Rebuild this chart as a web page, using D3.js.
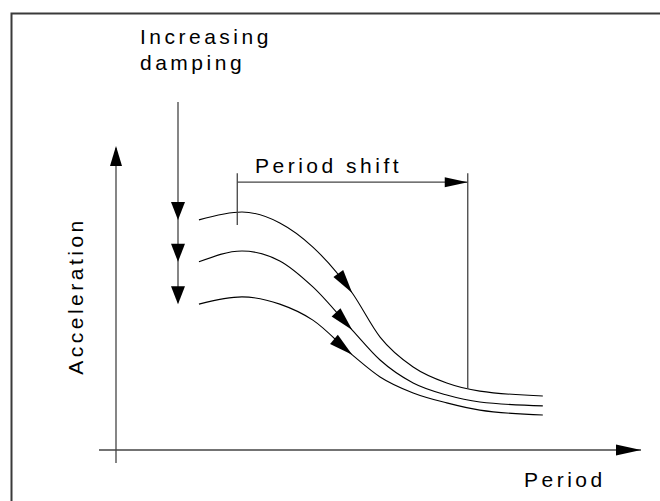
<!DOCTYPE html>
<meta charset="utf-8">
<style>
body { margin: 0; background: #fff; }
text {
  font: 21px "Liberation Sans", Arial, sans-serif;
  letter-spacing: 3.5px;
  fill: #000;
}
</style>
<svg width="660" height="501"></svg>
<script src="https://d3js.org/d3.v7.min.js"></script>
<script>

// schematic spectra: period vs acceleration, one list per damping level
let periods = [1.58, 2.40, 3.12, 3.75, 4.50, 5.03, 5.66, 6.30, 6.93, 8.13];
let lowDamping = [7.62, 7.88, 7.52, 6.72, 5.20, 3.74, 2.75, 2.22, 1.95, 1.79];
let midDamping = [6.23, 6.59, 6.26, 5.40, 3.97, 2.98, 2.22, 1.82, 1.59, 1.46];
let highDamping = [4.83, 5.07, 4.83, 4.30, 3.15, 2.42, 1.89, 1.56, 1.32, 1.16];
let curves = [lowDamping, midDamping, highDamping];

let shiftFrom = 2.31;   // period where the shift bracket starts
let shiftTo = 6.70;     // period where it ends
let shiftLevel = 8.87;  // acceleration level of the bracket
let arrowAt = 4.50;     // period of the arrow heads on the curves

let svg = d3.select('svg');

let x = d3.scaleLinear().domain([0, 10]).range([116, 641]);
let y = d3.scaleLinear().domain([0, 10]).range([450, 148]);

// frame (only top/left edge in view)
svg.append('path')
    .attr('d', 'M11.5,501V13.5H660')
    .attr('fill', 'none')
    .attr('stroke', '#3a3a3a')
    .attr('stroke-width', 2);

let head = (tx, ty, angle, len, wid) => {
  svg.append('path')
      .attr('d', `M0,0L${-len},${-wid / 2}L${-len},${wid / 2}Z`)
      .attr('transform', `translate(${tx},${ty}) rotate(${angle})`)
      .attr('fill', '#000');
};

// point on a path at a given screen x, plus its heading
let pointAt = (node, px) => {
  let lo = 0, hi = node.getTotalLength();
  for (let k = 0; k < 40; k++) {
    let mid = (lo + hi) / 2;
    if (node.getPointAtLength(mid).x < px) lo = mid; else hi = mid;
  }
  let a = node.getPointAtLength(lo);
  let b = node.getPointAtLength(Math.max(0, lo - 3));
  return {x: a.x, y: a.y, angle: Math.atan2(a.y - b.y, a.x - b.x) * 180 / Math.PI};
};

// axes
svg.append('line')
    .attr('x1', x(0)).attr('x2', x(0))
    .attr('y1', y(0) + 13).attr('y2', y(10))
    .attr('stroke', '#444').attr('stroke-width', 1.3);
head(x(0), y(10) - 2, -90, 20, 12);

svg.append('line')
    .attr('x1', x(0) - 17).attr('x2', x(10))
    .attr('y1', y(0)).attr('y2', y(0))
    .attr('stroke', '#444').attr('stroke-width', 1.3);
head(x(10), y(0), 0, 25, 11);

// spectrum curves
let line = d3.line()
    .x((d, i) => x(periods[i]))
    .y(d => y(d))
    .curve(d3.curveMonotoneX);

let nodes = curves.map(c => {
  let p = svg.append('path')
      .attr('d', line(c))
      .attr('fill', 'none')
      .attr('stroke', '#000')
      .attr('stroke-width', 1.1);
  let pt = pointAt(p.node(), x(arrowAt));
  head(pt.x, pt.y, pt.angle, 24, 12);
  return p.node();
});

// increasing damping arrow
let dx = 178;
svg.append('line')
    .attr('x1', dx).attr('x2', dx)
    .attr('y1', 102).attr('y2', y(highDamping[0]) - 2)
    .attr('stroke', '#444').attr('stroke-width', 1.3);
curves.forEach(c => head(dx, y(c[0]), 90, 18, 14));

svg.append('text').attr('x', 140).attr('y', 44).text('Increasing');
svg.append('text').attr('x', 140).attr('y', 70).text('damping');

// period shift bracket
svg.append('line')
    .attr('x1', x(shiftFrom)).attr('x2', x(shiftFrom))
    .attr('y1', y(shiftLevel) - 9).attr('y2', y(lowDamping[1]) + 13)
    .attr('stroke', '#444').attr('stroke-width', 1.3);
svg.append('line')
    .attr('x1', x(shiftFrom)).attr('x2', x(shiftTo))
    .attr('y1', y(shiftLevel)).attr('y2', y(shiftLevel))
    .attr('stroke', '#444').attr('stroke-width', 1.3);
head(x(shiftTo), y(shiftLevel), 0, 23, 10);
let foot = pointAt(nodes[0], x(shiftTo));
svg.append('line')
    .attr('x1', x(shiftTo)).attr('x2', x(shiftTo))
    .attr('y1', y(shiftLevel) - 9).attr('y2', foot.y)
    .attr('stroke', '#444').attr('stroke-width', 1.3);
svg.append('text').attr('x', 255).attr('y', 173).text('Period shift');

// axis titles
svg.append('text')
    .attr('transform', 'translate(83,296) rotate(-90)')
    .attr('text-anchor', 'middle')
    .text('Acceleration');
svg.append('text').attr('x', 524).attr('y', 487).text('Period');

</script>
